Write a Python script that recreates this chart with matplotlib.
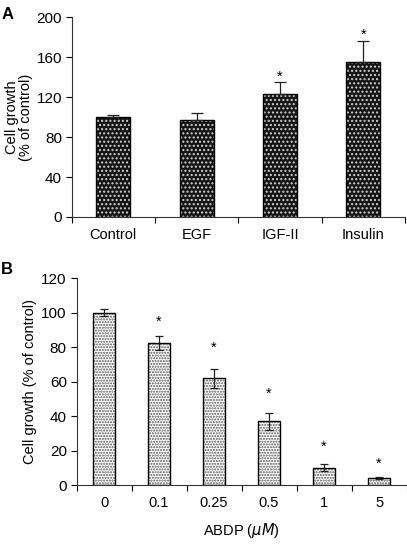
import matplotlib
matplotlib.use("Agg")
import matplotlib.pyplot as plt
import numpy as np

plt.rcParams['font.family'] = ['Liberation Sans', 'DejaVu Sans']
plt.rcParams['hatch.linewidth'] = 1.0

# Panel A data
a_labels = ["Control", "EGF", "IGF-II", "Insulin"]
a_values = [100, 97, 123, 155]
a_err = [2, 7, 12, 21]
a_star = [None, None, 141, 183]
a_yticks = [0, 40, 80, 120, 160, 200]

# Panel B data
b_labels = ["0", "0.1", "0.25", "0.5", "1", "5"]
b_values = [100, 82.5, 62, 37, 10, 4]
b_err = [2, 4, 5.5, 5, 2, 0.8]
b_star = [None, 95, 79.5, 53, 22.3, 12.6]
b_yticks = [0, 20, 40, 60, 80, 100, 120]

fig = plt.figure(figsize=(4.07, 5.46), dpi=100)
axA = fig.add_axes([0.176, 0.6026, 0.819, 0.3654])
axB = fig.add_axes([0.188, 0.1117, 0.811, 0.3786])

def style(ax, n, ylim, yticks, labels):
    ax.set_xlim(-0.5, n - 0.5)
    ax.set_ylim(*ylim)
    ax.set_yticks(yticks)
    ax.set_xticks(np.arange(-0.5, n, 1.0))
    ax.set_xticklabels([])
    ax.set_xticks(np.arange(n), minor=True)
    ax.set_xticklabels(labels, minor=True)
    ax.tick_params(axis='x', which='minor', length=0, labelsize=10.5, pad=8)
    ax.tick_params(axis='x', which='major', length=4, width=0.8, direction='out')
    ax.tick_params(axis='y', length=4, width=0.8, direction='out', labelsize=11, pad=3)
    for s in ['top', 'right']:
        ax.spines[s].set_visible(False)
    for s in ['left', 'bottom']:
        ax.spines[s].set_linewidth(0.8)
        ax.spines[s].set_color('#333333')

# Panel A
xa = np.arange(len(a_labels))
w = 0.41
axA.bar(xa, a_values, width=w, color='#151515', edgecolor='#d0d0d0', hatch='....', linewidth=0, zorder=2)
axA.bar(xa, a_values, width=w, fill=False, edgecolor='black', linewidth=1.0, zorder=3)
axA.errorbar(xa, a_values, yerr=[np.zeros(len(a_err)), a_err], fmt='none', ecolor='#222222',
             elinewidth=0.9, capsize=4, capthick=0.9, zorder=4)
for x, s in zip(xa, a_star):
    if s is not None:
        axA.text(x, s, '*', ha='center', va='center', fontsize=10.5)
style(axA, len(a_labels), (0, 200), a_yticks, a_labels)
axA.set_ylabel("Cell growth\n(% of control)", fontsize=10.5, linespacing=1.0)
axA.yaxis.set_label_coords(-0.116, 0.5)

# Panel B
xb = np.arange(len(b_labels))
axB.bar(xb, b_values, width=w, color='white', edgecolor='#555555', hatch='......', linewidth=0, zorder=2)
axB.bar(xb, b_values, width=w, fill=False, edgecolor='black', linewidth=1.0, zorder=3)
axB.errorbar(xb, b_values, yerr=b_err, fmt='none', ecolor='#222222',
             elinewidth=0.9, capsize=3, capthick=0.9, zorder=4)
for x, s in zip(xb, b_star):
    if s is not None:
        axB.text(x, s, '*', ha='center', va='center', fontsize=10.5)
style(axB, len(b_labels), (0, 120), b_yticks, b_labels)
axB.set_ylabel("Cell growth (% of control)", fontsize=10.5)
axB.yaxis.set_label_coords(-0.120, 0.5)
axB.set_xlabel(r"ABDP ($\mu M$)", fontsize=10.5, labelpad=8)

fig.text(0.005, 0.987, "A", fontsize=12, fontweight='bold', va='top', ha='left')
fig.text(0.003, 0.521, "B", fontsize=12, fontweight='bold', va='top', ha='left')

fig.savefig("out.png", dpi=100)
